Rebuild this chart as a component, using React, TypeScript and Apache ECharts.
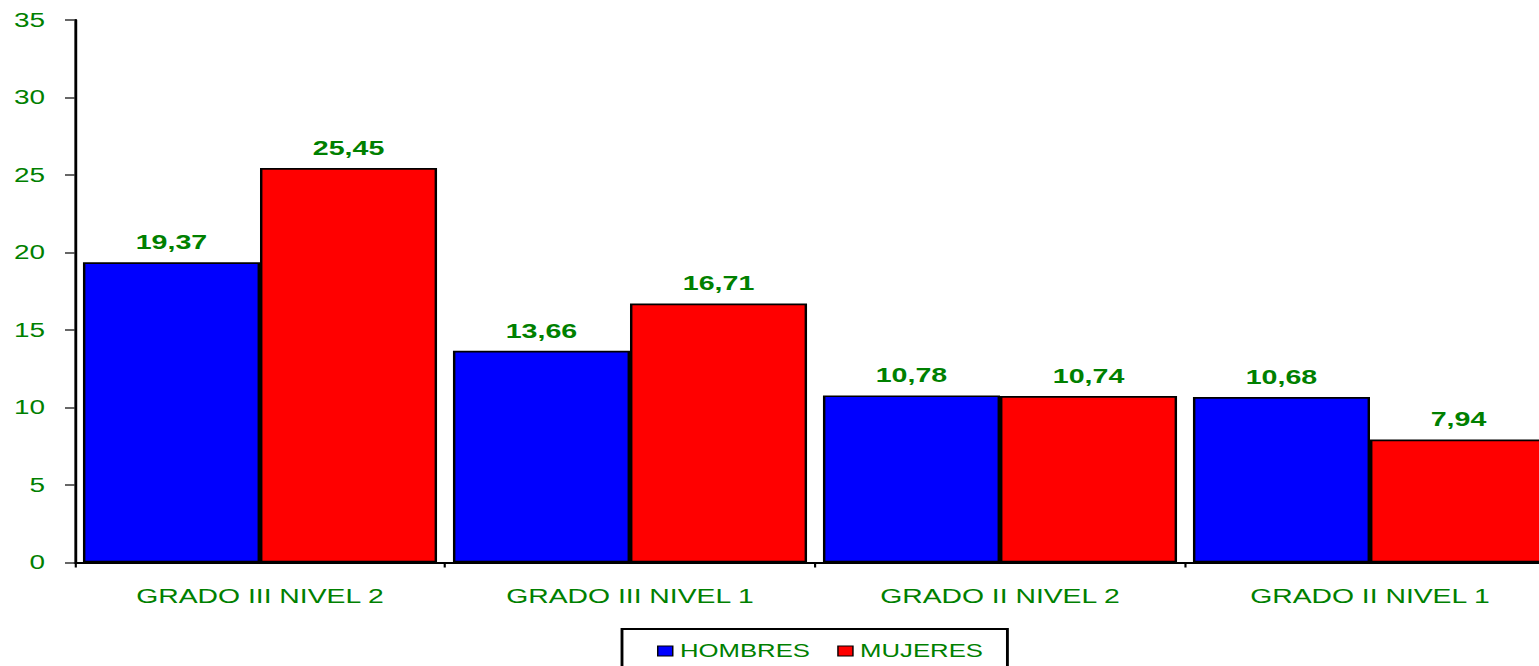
import React, { useEffect, useRef } from "react";
import * as echarts from "echarts";

const categories = ["GRADO III NIVEL 2", "GRADO III NIVEL 1", "GRADO II NIVEL 2", "GRADO II NIVEL 1"];
const hombres = [19.37, 13.66, 10.78, 10.68];
const mujeres = [25.45, 16.71, 10.74, 7.94];
const seriesNames = ["HOMBRES", "MUJERES"];

const S = 1.43; // horizontal stretch of the original rendering
const INNER_W = 1100;
const GREEN = "#008000";
const FONT = "'Liberation Sans', Arial, sans-serif";

export default function App() {
  const ref = useRef<HTMLDivElement>(null);
  useEffect(() => {
    if (!ref.current) return;
    const chart = echarts.init(ref.current, undefined, { renderer: "svg" });
    const fmt = (p: any) => Number(p.value).toFixed(2).replace(".", ",");
    const label = {
      show: true,
      position: "top" as const,
      distance: 10,
      color: GREEN,
      fontWeight: "bold" as const,
      fontSize: 20,
      fontFamily: FONT,
      formatter: fmt,
    };
    chart.setOption({
      animation: false,
      backgroundColor: "#ffffff",
      grid: {
        left: 75 / S,
        right: INNER_W - 1555 / S,
        top: 20,
        bottom: 103.5,
        containLabel: false,
        outerBoundsMode: "none",
      },
      legend: {
        left: 622 / S,
        top: 629,
        orient: "horizontal",
        padding: [13, 17, 30, 24.5],
        borderColor: "#000000",
        borderWidth: 2,
        itemWidth: 10.5,
        itemHeight: 10,
        itemGap: 19,
        icon: "rect",
        itemStyle: { borderColor: "#000000", borderWidth: 1 },
        textStyle: { color: GREEN, fontSize: 18, fontFamily: FONT },
        data: seriesNames,
      },
      xAxis: {
        type: "category",
        data: categories,
        axisLine: { show: true, lineStyle: { color: "#000000", width: 2 } },
        axisTick: { show: true, alignWithLabel: false, length: 5, lineStyle: { color: "#000000", width: 1.5 } },
        axisLabel: { color: GREEN, fontSize: 19.8, fontFamily: FONT, margin: 24, interval: 0 },
        splitLine: { show: false },
      },
      yAxis: {
        type: "value",
        min: 0,
        max: 35,
        interval: 5,
        axisLine: { show: true, lineStyle: { color: "#000000", width: 2 } },
        axisTick: { show: true, length: 7, lineStyle: { color: "#333333", width: 1.5 } },
        axisLabel: { color: GREEN, fontSize: 19.5, fontFamily: FONT, margin: 21 },
        splitLine: { show: false },
      },
      series: [
        {
          name: seriesNames[0],
          type: "bar",
          data: hombres,
          barGap: "0%",
          barCategoryGap: "4.3%",
          itemStyle: { color: "#0000FF", borderColor: "#000000", borderWidth: 1.7 },
          label,
        },
        {
          name: seriesNames[1],
          type: "bar",
          data: mujeres,
          barGap: "0%",
          barCategoryGap: "4.3%",
          itemStyle: { color: "#FF0000", borderColor: "#000000", borderWidth: 1.7 },
          label,
        },
      ],
    });
    return () => chart.dispose();
  }, []);

  return (
    <div
      style={{
        position: "fixed",
        left: 0,
        top: 0,
        width: 1539,
        height: 666,
        overflow: "hidden",
        background: "#ffffff",
      }}
    >
      <div
        ref={ref}
        style={{
          width: INNER_W,
          height: 666,
          transform: `scaleX(${S})`,
          transformOrigin: "0 0",
        }}
      />
    </div>
  );
}
